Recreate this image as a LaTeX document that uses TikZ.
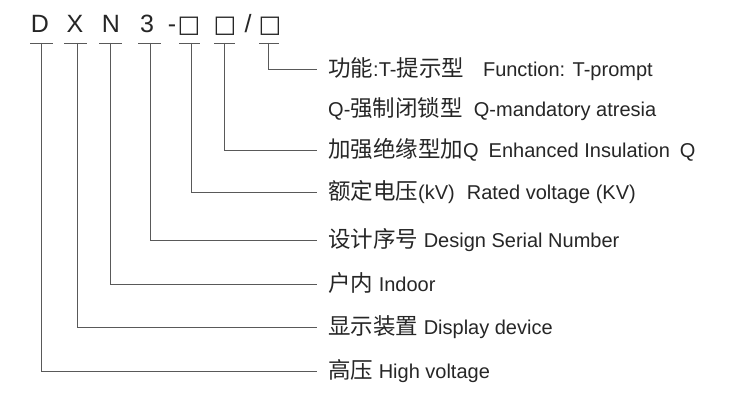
\documentclass[tikz,border=0pt]{standalone}
\usepackage{fontspec}
\setmainfont{Liberation Sans}
\newfontfamily\zhfont{Noto Sans CJK SC}
\newfontfamily\symfont{DejaVu Sans}
\newcommand{\zh}[1]{{\zhfont\fontsize{22.5}{26}\selectfont #1}}
\newcommand{\sq}{{\symfont\fontsize{24}{28}\selectfont □}}
\begin{document}
\begin{tikzpicture}[x=1pt,y=-1pt,
  conn/.style={draw=black!65, line width=0.9pt},
  lbl/.style={anchor=base west, inner sep=0pt, text=black!85, font=\fontsize{20}{24}\selectfont},
  hdr/.style={anchor=base, inner sep=0pt, text=black!85, font=\fontsize{25}{30}\selectfont}]
\useasboundingbox[fill=white] (0,0) rectangle (754,404);
% header
\node[hdr] (hD) at (40,33) {D};
\node[hdr] (hX) at (75,33) {X};
\node[hdr] (hN) at (111,33) {N};
\node[hdr] (h3) at (147,33) {3};
\node[hdr] (hdash) at (172,33) {-};
\node[hdr] (hb1) at (189,33) {\sq};
\node[hdr] (hb2) at (225,33) {\sq};
\node[hdr] (hsl) at (248,33) {/};
\node[hdr] (hb3) at (270,33) {\sq};
% tap points
\coordinate (tD) at (41,43);
\coordinate (tX) at (77,43);
\coordinate (tN) at (110,43);
\coordinate (t3) at (150,43);
\coordinate (tb1) at (191,43);
\coordinate (tb2) at (224,43);
\coordinate (tb3) at (268,43);
% bars
\draw[conn] (30,43) -- (53,43);
\draw[conn] (64,43) -- (87,43);
\draw[conn] (99,43) -- (122,43);
\draw[conn] (138,43) -- (161,43);
\draw[conn] (179,43) -- (200,43);
\draw[conn] (214,43) -- (235,43);
\draw[conn] (259,43) -- (279,43);
% line ends
\coordinate (e1) at (317,69);
\coordinate (e3) at (317,150);
\coordinate (e4) at (317,192);
\coordinate (e5) at (317,240);
\coordinate (e6) at (317,284);
\coordinate (e7) at (317,327);
\coordinate (e8) at (317,371);
% labels
\node[lbl] (l1) at (328,76) {\zh{功能}:T-\zh{提示型}\hspace{19pt}Function: T-prompt};
\node[lbl] (l2) at (328,116) {Q-\zh{强制闭锁型}\hspace{11pt}Q-mandatory atresia};
\node[lbl] (l3) at (328,157) {\zh{加强绝缘型加}Q\hspace{10pt}Enhanced Insulation\hspace{10pt}Q};
\node[lbl] (l4) at (328,199) {\zh{额定电压}(kV)\hspace{12pt}Rated voltage (KV)};
\node[lbl] (l5) at (328,247) {\zh{设计序号} Design Serial Number};
\node[lbl] (l6) at (328,291) {\zh{户内} Indoor};
\node[lbl] (l7) at (328,334) {\zh{显示装置} Display device};
\node[lbl] (l8) at (328,378) {\zh{高压} High voltage};
% connectors
\draw[conn] (tb3) |- (e1);
\draw[conn] (tb2) |- (e3);
\draw[conn] (tb1) |- (e4);
\draw[conn] (t3) |- (e5);
\draw[conn] (tN) |- (e6);
\draw[conn] (tX) |- (e7);
\draw[conn] (tD) |- (e8);
\end{tikzpicture}
\end{document}
